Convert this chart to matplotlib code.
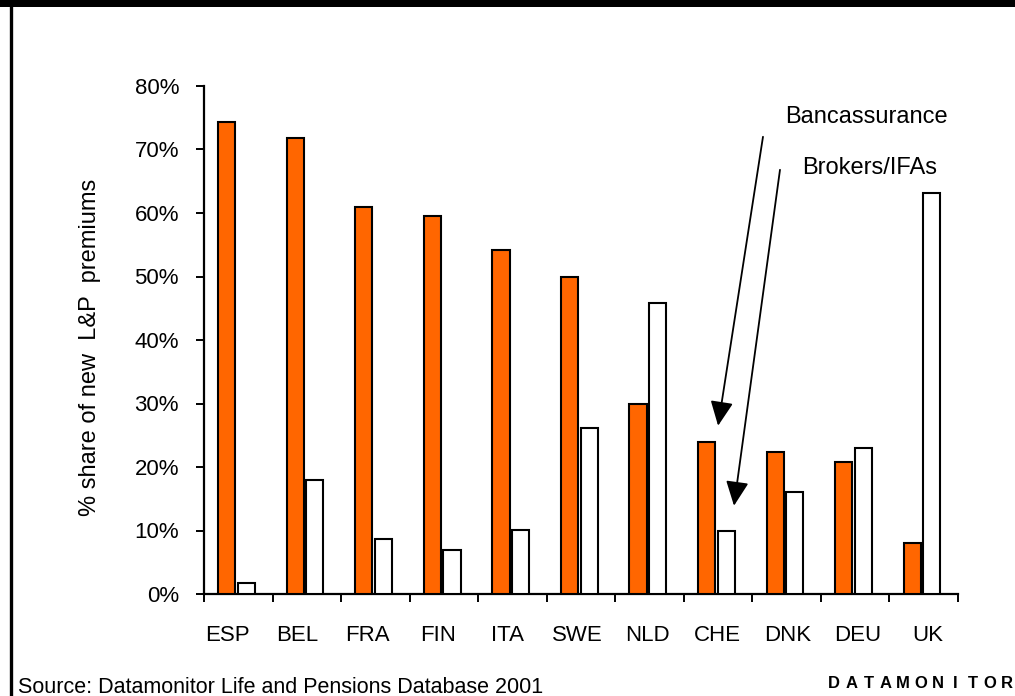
import matplotlib
matplotlib.use("Agg")
import matplotlib.pyplot as plt
from matplotlib.patches import Rectangle
from matplotlib.lines import Line2D
import numpy as np

plt.rcParams['font.family'] = ['Liberation Sans', 'DejaVu Sans']

countries = ["ESP", "BEL", "FRA", "FIN", "ITA", "SWE", "NLD", "CHE", "DNK", "DEU", "UK"]
bancassurance = [74.3, 71.8, 61.0, 59.5, 54.1, 50.0, 29.9, 23.9, 22.3, 20.8, 8.1]
brokers_ifas = [1.8, 18.0, 8.7, 6.9, 10.1, 26.1, 45.9, 10.0, 16.0, 23.0, 63.2]
y_ticks = [0, 10, 20, 30, 40, 50, 60, 70, 80]

ORANGE = "#FF6600"

W, H, DPI = 1015, 696, 100
fig = plt.figure(figsize=(W / DPI, H / DPI), dpi=DPI)
fig.patch.set_facecolor("white")

ax = fig.add_axes([204 / W, 1 - 594 / H, (958 - 204) / W, (594 - 86) / H])
ax.set_facecolor("none")

x = np.arange(len(countries))
bw = 0.25
ax.bar(x - 0.168, bancassurance, width=bw, color=ORANGE, edgecolor="black",
       linewidth=1.5, zorder=3)
ax.bar(x + 0.118, brokers_ifas, width=bw, color="white", edgecolor="black",
       linewidth=1.5, zorder=3)

ax.set_xlim(-0.5, len(countries) - 0.5)
ax.set_ylim(0, 80)

for s in ["top", "right"]:
    ax.spines[s].set_visible(False)
for s in ["left", "bottom"]:
    ax.spines[s].set_linewidth(1.6)
    ax.spines[s].set_color("black")

ax.set_yticks(y_ticks)
ax.set_yticklabels([f"{v}%" for v in y_ticks], fontsize=16)
ax.tick_params(axis="y", direction="out", length=6, width=1.4, pad=12)

# category boundaries carry the tick marks; labels sit on a slightly
# wider, evenly spaced row beneath them
ax.set_xticks(np.arange(-0.5, len(countries), 1.0))
ax.set_xticklabels([])
ax.tick_params(axis="x", which="major", direction="out", length=6, width=1.4)
label_pos = -0.158 + 1.022 * x
ax.set_xticks(label_pos, minor=True)
ax.set_xticklabels(countries, minor=True, fontsize=16)
ax.tick_params(axis="x", which="minor", length=0, pad=22)

fig.text(90 / W, 1 - 347 / H, "% share of new  L&P  premiums", fontsize=17,
         rotation=90, ha="center", va="center")

# callout labels with arrows
fig.text(866 / W, 1 - 123 / H, "Bancassurance", fontsize=17, ha="center",
         va="baseline")
fig.text(870 / W, 1 - 174 / H, "Brokers/IFAs", fontsize=17, ha="center",
         va="baseline")

arrow_style = dict(arrowstyle="-|>,head_length=0.75,head_width=0.35",
                   mutation_scale=20, color="black", lw=1.3,
                   shrinkA=0, shrinkB=0)
ax.annotate("", xy=(7.0, 26.5), xytext=(7.655, 72.0), xycoords="data",
            textcoords="data", arrowprops=arrow_style, annotation_clip=False)
ax.annotate("", xy=(7.232, 13.9), xytext=(7.903, 66.8), xycoords="data",
            textcoords="data", arrowprops=arrow_style, annotation_clip=False)

# frame: heavy top rule and left rule
fig.patches.append(Rectangle((0, 1 - 7 / H), 1, 7 / H, transform=fig.transFigure,
                             facecolor="black", edgecolor="none", zorder=10))
fig.lines.append(Line2D([10.5 / W, 10.5 / W], [0, 1], transform=fig.transFigure,
                        color="black", linewidth=2.4, zorder=10))

fig.text(18 / W, 1 - 693 / H, "Source: Datamonitor Life and Pensions Database 2001",
         fontsize=15.5, ha="left", va="baseline")

# spaced-out wordmark, one letter at a time
brand = "DATAMONITOR"
for i, ch in enumerate(brand):
    fig.text((834 + 17.3 * i) / W, 1 - 688 / H, ch, fontsize=12,
             fontweight="bold", ha="center", va="baseline")

fig.savefig("out.png", dpi=DPI)
